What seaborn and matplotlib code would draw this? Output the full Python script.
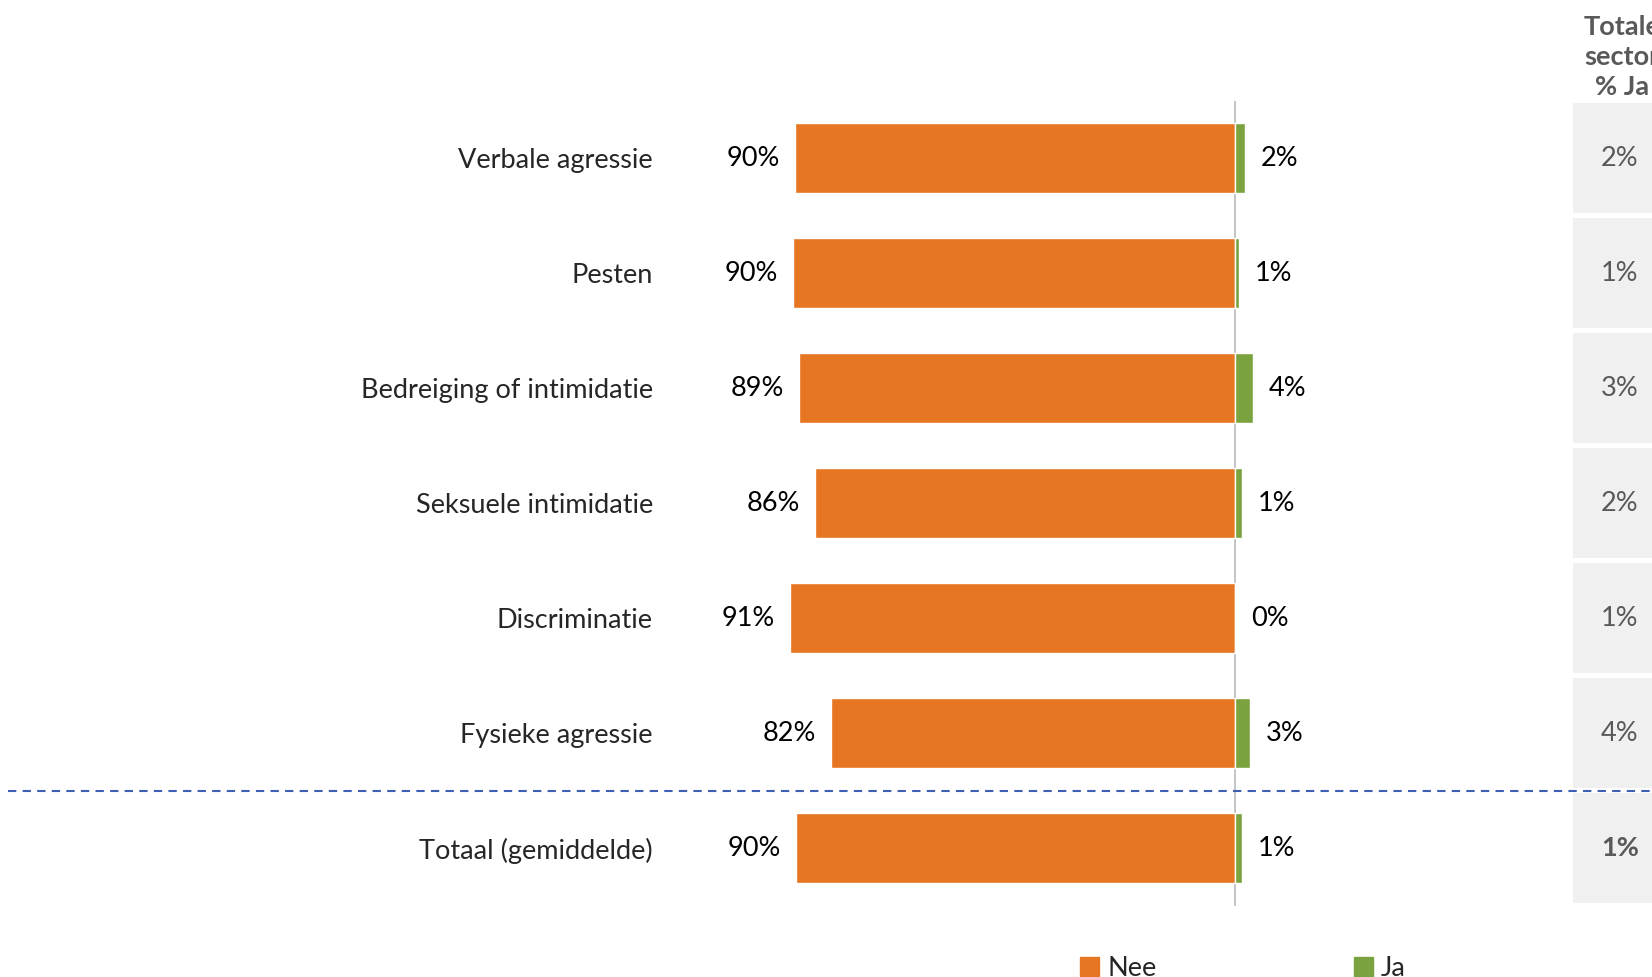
import matplotlib
matplotlib.use("Agg")
import matplotlib.pyplot as plt
import matplotlib.transforms as mtransforms
from matplotlib.patches import Rectangle
from matplotlib.lines import Line2D
import seaborn as sns
import pandas as pd

categories = ["Verbale agressie", "Pesten", "Bedreiging of intimidatie",
              "Seksuele intimidatie", "Discriminatie", "Fysieke agressie",
              "Totaal (gemiddelde)"]
nee = [90.0, 90.4, 89.2, 85.8, 91.0, 82.6, 89.8]
ja = [2.0, 0.8, 3.7, 1.4, 0.0, 3.0, 1.4]
nee_labels = ["90%", "90%", "89%", "86%", "91%", "82%", "90%"]
ja_labels = ["2%", "1%", "4%", "1%", "0%", "3%", "1%"]
sector_ja = ["2%", "1%", "3%", "2%", "1%", "4%", "1%"]

orange = "#E67621"
green = "#7AA33F"
fs = 19.5

sns.set_style("white")
plt.rcParams["font.family"] = ["Lato", "DejaVu Sans"]

W, H = 1652, 977
fig = plt.figure(figsize=(W / 100, H / 100), dpi=100)
ax = fig.add_axes([700 / W, 1 - 905.5 / H, 800 / W, 805 / H])

df = pd.DataFrame({"cat": categories, "nee": [-v for v in nee], "ja": ja})
sns.barplot(data=df, x="nee", y="cat", color=orange, orient="h",
            width=0.61, saturation=1, ax=ax)
sns.barplot(data=df, x="ja", y="cat", color=green, orient="h",
            width=0.61, saturation=1, ax=ax)

px = 4.89  # pixels per percent
ax.set_xlim((700 - 1235) / px, (1500 - 1235) / px)
ax.set_ylim(6.5, -0.5)
ax.axvline(0, color="#BFBFBF", lw=1.3, zorder=0)

for i in range(len(categories)):
    ax.text(-nee[i] - 15 / px, i, nee_labels[i], ha="right", va="center",
            fontsize=fs, color="black")
    ax.text(ja[i] + 16 / px, i, ja_labels[i], ha="left", va="center",
            fontsize=fs, color="black")

ax.set_xlabel("")
ax.set_ylabel("")
ax.set_xticks([])
ax.tick_params(axis="y", length=0, pad=34, labelsize=fs)
for s in ax.spines.values():
    s.set_visible(False)

# right-hand column with sector totals
tr = mtransforms.blended_transform_factory(fig.transFigure, ax.transData)
for i, lab in enumerate(sector_ja):
    ax.add_patch(Rectangle((1573 / W, i - 0.5 + 0.02), 1 - 1573 / W, 0.96,
                           transform=tr, facecolor="#F0F0F0", edgecolor="none",
                           clip_on=False))
    ax.text(1620 / W, i, lab, transform=tr, ha="center", va="center",
            fontsize=fs, color="#595959",
            fontweight="bold" if i == len(sector_ja) - 1 else "normal")
fig.text(1622 / W, 1 - 57 / H, "Totale\nsector\n% Ja", ha="center", va="center",
         fontsize=fs, fontweight="bold", color="#595959", linespacing=1.3)

# dashed separator above the total row
fig.add_artist(Line2D([8 / W, 1], [5.5, 5.5], transform=tr, color="#3F5FB5",
                      lw=1.5, ls=(0, (4, 3))))

handles = [Rectangle((0, 0), 1, 1, color=orange), Rectangle((0, 0), 1, 1, color=green)]
fig.legend(handles, ["Nee", "Ja"], loc="center", bbox_to_anchor=(1243 / W, 1 - 968 / H),
           ncol=2, frameon=False, fontsize=fs, handlelength=0.7, handleheight=0.7,
           handletextpad=0.3, columnspacing=7.3)

fig.savefig("out.png", dpi=100)
